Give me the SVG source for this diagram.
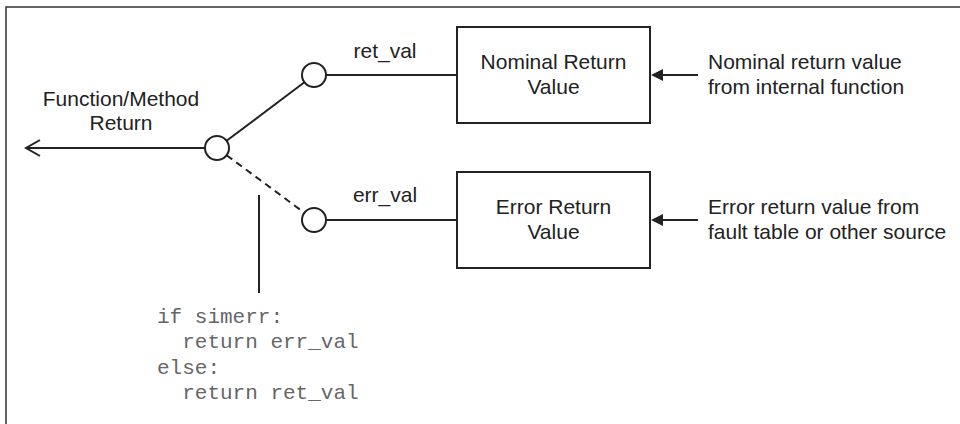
<svg xmlns="http://www.w3.org/2000/svg" width="960" height="424" viewBox="0 0 960 424">
<style>
.ln{stroke:#222;stroke-width:2;fill:none}
.bx{stroke:#222;stroke-width:2;fill:#fff}
.cr{stroke:#222;stroke-width:2;fill:#fff}
.ah{fill:#222}
.t{font-family:"Liberation Sans",Arial,sans-serif;font-size:21px;fill:#222}
.c{text-anchor:middle}
.code{font-family:"Liberation Mono","Courier New",monospace;font-size:21px;fill:#666}
</style>
<rect width="960" height="424" fill="#fff"/>
<path d="M6,424 V7 H960" fill="none" stroke="#333" stroke-width="1.5"/>
<g id="connectors">
<line class="ln" x1="205" y1="148" x2="26" y2="148"/>
<path class="ln" d="M40,140 L26,148 L40,156"/>
<line class="ln" x1="226.6" y1="140.8" x2="304.4" y2="82.2"/>
<line class="ln" x1="226.6" y1="155.2" x2="304.4" y2="212.8" stroke-dasharray="7,5"/>
<line class="ln" x1="326" y1="75" x2="457" y2="75"/>
<line class="ln" x1="326" y1="220" x2="457" y2="220"/>
<line class="ln" x1="698" y1="75" x2="663" y2="75"/>
<path class="ah" d="M651,75 L663,69 L663,81 Z"/>
<line class="ln" x1="698" y1="220" x2="663" y2="220"/>
<path class="ah" d="M651,220 L663,214 L663,226 Z"/>
<line class="ln" x1="259" y1="195" x2="259" y2="293"/>
<text class="t c" x="385" y="58">ret_val</text>
<text class="t c" x="385" y="202">err_val</text>
</g>
<g id="junction"><circle class="cr" cx="217" cy="148" r="12"/></g>
<g id="ret-switch"><circle class="cr" cx="314" cy="75" r="12"/></g>
<g id="err-switch"><circle class="cr" cx="314" cy="220" r="12"/></g>
<g id="function-return">
<text class="t c" x="121" y="106">Function/Method</text>
<text class="t c" x="121" y="130">Return</text>
</g>
<g id="nominal-box">
<rect class="bx" x="457" y="27" width="193" height="96"/>
<text class="t c" x="553.5" y="69">Nominal Return</text>
<text class="t c" x="553.5" y="94">Value</text>
</g>
<g id="error-box">
<rect class="bx" x="457" y="172" width="193" height="96"/>
<text class="t c" x="553.5" y="214">Error Return</text>
<text class="t c" x="553.5" y="239">Value</text>
</g>
<g id="nominal-source">
<text class="t" x="708" y="69">Nominal return value</text>
<text class="t" x="708" y="94">from internal function</text>
</g>
<g id="error-source">
<text class="t" x="708" y="214">Error return value from</text>
<text class="t" x="708" y="239">fault table or other source</text>
</g>
<g id="code">
<text class="code" x="157" y="323">if simerr:</text>
<text class="code" x="157" y="348" xml:space="preserve">  return err_val</text>
<text class="code" x="157" y="374">else:</text>
<text class="code" x="157" y="399" xml:space="preserve">  return ret_val</text>
</g>
</svg>
